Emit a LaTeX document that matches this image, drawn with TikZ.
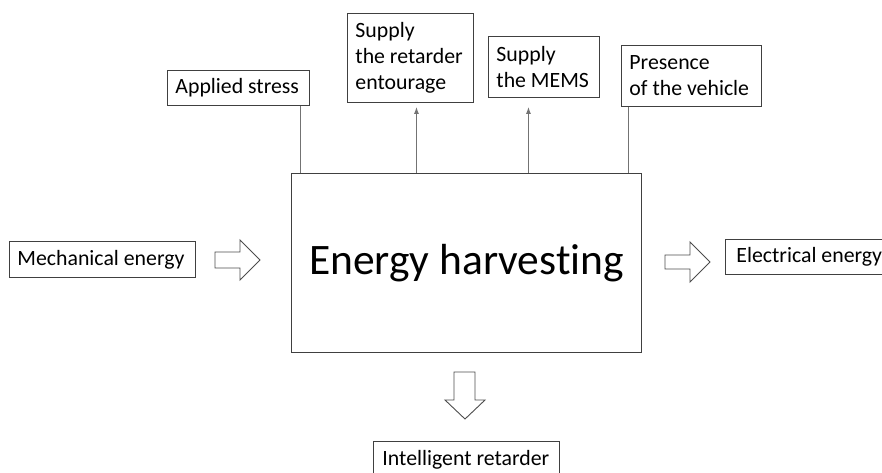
\documentclass[tikz,border=0pt]{standalone}
\usepackage{fontspec}
\setmainfont{Carlito}[Ligatures=NoCommon]
\usetikzlibrary{arrows.meta}
\begin{document}
\begin{tikzpicture}[x=1pt,y=-1pt,
  box/.style={draw=black!75,line width=0.9pt,anchor=north west,inner xsep=8pt,inner ysep=0pt,align=left,font=\fontsize{21.8}{26}\selectfont,execute at begin node={\spaceskip=0pt\xspaceskip=0pt\relax}},
  link/.style={draw=black!55,line width=1pt},
  feed/.style={link,-{Latex[length=7pt,width=5pt]}},
  blockarrow/.style={draw=black!70,line width=0.9pt,line join=miter}]
\clip (0,0) rectangle (882,472);
\useasboundingbox (0,0) rectangle (882,472);
\node[draw=black!75,line width=0.9pt,anchor=north west,minimum width=350pt,minimum height=179pt,font=\fontsize{43.5}{52}\selectfont] (harvest) at (291,173) {Energy harvesting};
\node[box,text width=126pt,minimum height=35pt] (stress) at (167,70) {Applied stress};
\node[box,text width=110pt,minimum height=89pt] (retarder) at (347,13) {Supply\\the retarder\\entourage};
\node[box,text width=95pt,minimum height=61pt] (mems) at (488,36) {Supply\\the MEMS};
\node[box,text width=124pt,minimum height=61pt] (presence) at (621,45) {Presence\\of the vehicle};
\node[box,text width=170pt,minimum height=36pt] (mech) at (9,241) {Mechanical energy};
\node[box,text width=170pt,inner xsep=11pt,minimum height=35pt] (elec) at (725,239) {Electrical energy};
\node[box,text width=168pt,inner xsep=9pt,minimum height=36pt] (intel) at (373,441) {Intelligent retarder};
% links to the top boxes
\coordinate (s1) at ([xshift=-9pt]stress.south east);
\coordinate (r1) at ([xshift=6pt]retarder.south);
\coordinate (m1) at ([xshift=-15.5pt]mems.south);
\coordinate (p1) at ([xshift=7pt]presence.south west);
\draw[link] (s1) -- (s1 |- harvest.north);
\draw[feed,shorten >=4pt] (r1 |- harvest.north) -- (r1);
\draw[feed,shorten >=9pt] (m1 |- harvest.north) -- (m1);
\draw[link] (p1) -- (p1 |- harvest.north);
% block arrows
\draw[blockarrow] (215,252) -- (240,252) -- (240,240) -- (260,260) -- (240,280) -- (240,268) -- (215,268) -- cycle;
\draw[blockarrow] (665,255) -- (690,255) -- (690,242) -- (710,262) -- (690,282) -- (690,269) -- (665,269) -- cycle;
\draw[blockarrow] (454,372) -- (475,372) -- (475,400) -- (485,400) -- (465,419) -- (445,400) -- (454,400) -- cycle;
\end{tikzpicture}
\end{document}
